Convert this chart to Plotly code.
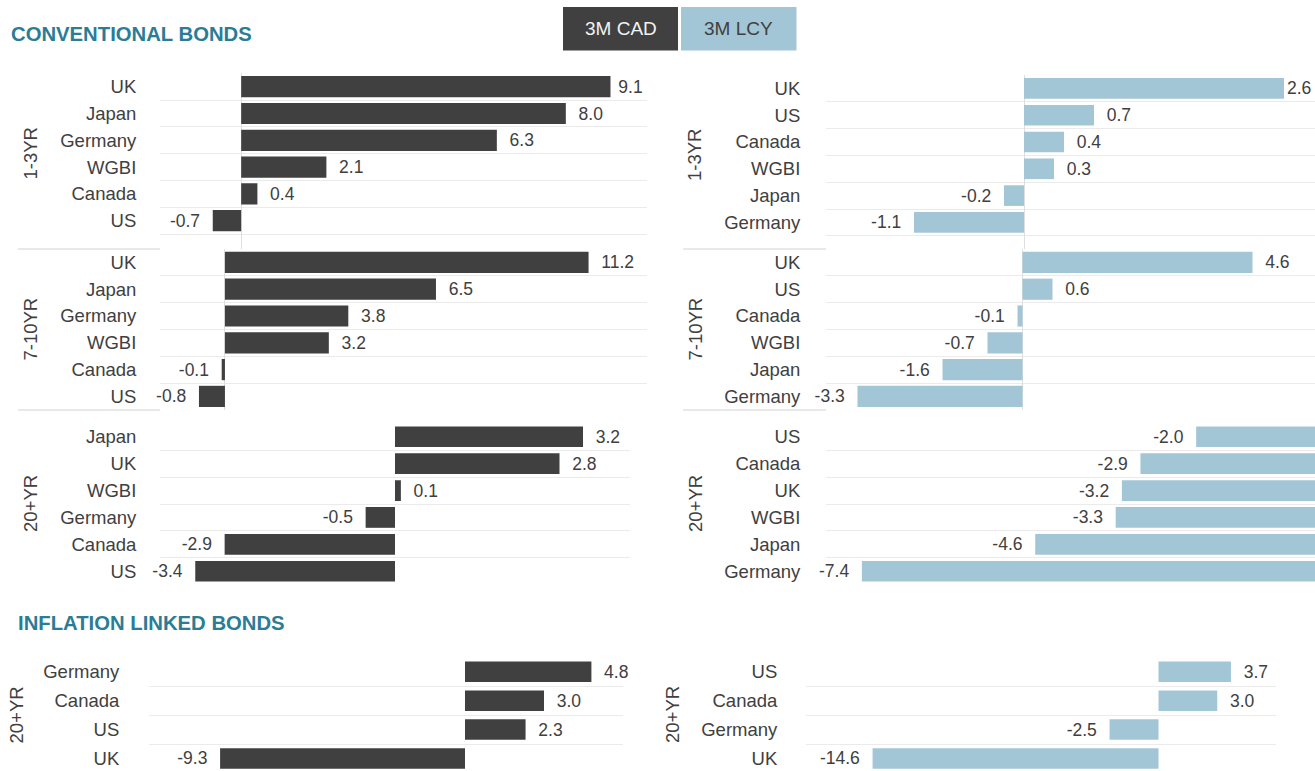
import plotly.graph_objects as go

# ---------------- DATA ----------------
series_names = ["3M CAD", "3M LCY"]

cad_1_3_cats = ["UK", "Japan", "Germany", "WGBI", "Canada", "US"]
cad_1_3_vals = [9.1, 8.0, 6.3, 2.1, 0.4, -0.7]

cad_7_10_cats = ["UK", "Japan", "Germany", "WGBI", "Canada", "US"]
cad_7_10_vals = [11.2, 6.5, 3.8, 3.2, -0.1, -0.8]

cad_20_cats = ["Japan", "UK", "WGBI", "Germany", "Canada", "US"]
cad_20_vals = [3.2, 2.8, 0.1, -0.5, -2.9, -3.4]

lcy_1_3_cats = ["UK", "US", "Canada", "WGBI", "Japan", "Germany"]
lcy_1_3_vals = [2.6, 0.7, 0.4, 0.3, -0.2, -1.1]

lcy_7_10_cats = ["UK", "US", "Canada", "WGBI", "Japan", "Germany"]
lcy_7_10_vals = [4.6, 0.6, -0.1, -0.7, -1.6, -3.3]

lcy_20_cats = ["US", "Canada", "UK", "WGBI", "Japan", "Germany"]
lcy_20_vals = [-2.0, -2.9, -3.2, -3.3, -4.6, -7.4]

il_cad_cats = ["Germany", "Canada", "US", "UK"]
il_cad_vals = [4.8, 3.0, 2.3, -9.3]

il_lcy_cats = ["US", "Canada", "Germany", "UK"]
il_lcy_vals = [3.7, 3.0, -2.5, -14.6]

section_labels = ["1-3YR", "7-10YR", "20+YR"]
titles = ["CONVENTIONAL BONDS", "INFLATION LINKED BONDS"]

# ---------------- STYLE ----------------
W, H = 1315, 771
DARK = "#404040"
LIGHT = "#a3c6d6"
TEAL = "#2b7c95"
TXT = "#404040"
GRID = "#ebebeb"
ZERO = "#dedede"
SEP = "#d2d2d2"
FONT = "Liberation Sans, Arial, Helvetica, sans-serif"
VAL_SIZE = 17.5


def fx(p):
    return p / W


def fy(p):
    return 1 - p / H


def text_w(s, size):
    w = {".": 0.278, "-": 0.333}
    return sum(w.get(c, 0.556) for c in s) * size


fig = go.Figure()

# panel geometry (pixels): x0, x1, ytop, ybottom, pitch, xrange, ticklen, bargap, zeroline, text limit
panels = [
    (cad_1_3_cats, cad_1_3_vals, DARK, 160, 647, 73.3, 249, 26.8, [-2, 10], 19, 0.21, True, 643),
    (cad_7_10_cats, cad_7_10_vals, DARK, 160, 647, 249, 410, 26.8, [-2, 13], 19, 0.21, True, 643),
    (cad_20_cats, cad_20_vals, DARK, 160, 630, 423.3, 585, 26.9, [-4, 4], 19, 0.23, False, 660),
    (lcy_1_3_cats, lcy_1_3_vals, LIGHT, 826, 1315, 75, 249, 26.8, [-1.98, 2.91], 21, 0.23, True, 1313),
    (lcy_7_10_cats, lcy_7_10_vals, LIGHT, 826, 1315, 249, 410, 26.8, [-3.93, 5.85], 21, 0.21, True, 1313),
    (lcy_20_cats, lcy_20_vals, LIGHT, 826, 1315, 423.3, 585, 26.9, [-7.98, -0.08], 21, 0.23, False, 1313),
    (il_cad_cats, il_cad_vals, DARK, 149, 623, 657.3, 771, 28.9, [-12, 6], 25, 0.29, False, 660),
    (il_lcy_cats, il_lcy_vals, LIGHT, 806, 1276, 657.3, 771, 28.9, [-18, 6], 24, 0.29, False, 1313),
]

NBW = 0.278 * VAL_SIZE
layout_axes = {}
for i, (cats, vals, color, x0, x1, ytop, ybot, pitch, xr, tl, gap, zl, tlim) in enumerate(panels):
    n = len(cats)
    k = "" if i == 0 else str(i + 1)
    idx = list(range(n))
    scale = (x1 - x0) / (xr[1] - xr[0])
    templates = []
    for v in vals:
        if v >= 0:
            end = x0 + (v - xr[0]) * scale
            lw = text_w("%.1f" % v, VAL_SIZE)
            npad = 2
            while npad > 0 and end + 3 + npad * NBW + lw > tlim:
                npad -= 1
            templates.append("\u00a0" * npad + "%{x:.1f}")
        else:
            templates.append("%{x:.1f}" + "\u00a0\u00a0")
    fig.add_trace(go.Bar(
        x=vals, y=idx, orientation="h", width=1 - gap,
        marker=dict(color=color, line=dict(width=0)),
        texttemplate=templates, textposition="outside",
        textfont=dict(family=FONT, size=VAL_SIZE, color=TXT),
        constraintext="none", cliponaxis=False,
        xaxis="x" + k, yaxis="y" + k, showlegend=False, hoverinfo="skip",
    ))
    ymax = (ybot - ytop) / pitch - 0.5
    layout_axes["xaxis" + k] = dict(
        domain=[fx(x0), fx(x1)], range=xr, anchor="y" + k,
        showticklabels=False, showgrid=False, ticks="",
        zeroline=zl, zerolinecolor=ZERO, zerolinewidth=1, showline=False, fixedrange=True,
    )
    layout_axes["yaxis" + k] = dict(
        domain=[fy(ybot), fy(ytop)], range=[ymax, -0.5], anchor="x" + k,
        tickmode="array", tickvals=idx, ticktext=cats,
        ticks="outside", ticklen=tl, tickcolor="rgba(0,0,0,0)",
        tickfont=dict(family=FONT, size=18.5, color=TXT),
        showgrid=False, zeroline=False, showline=False, fixedrange=True,
        minor=dict(tickvals=[j - 0.5 for j in range(n + 1)], showgrid=True,
                   gridcolor=GRID, gridwidth=1, ticks=""),
    )

shapes = []
# block separators in the label column
for y in (249, 410):
    shapes.append(dict(type="line", xref="paper", yref="paper",
                       x0=fx(18), x1=fx(160), y0=fy(y), y1=fy(y),
                       line=dict(color=SEP, width=1)))
    shapes.append(dict(type="line", xref="paper", yref="paper",
                       x0=fx(683), x1=fx(826), y0=fy(y), y1=fy(y),
                       line=dict(color=SEP, width=1)))
# legend buttons
shapes.append(dict(type="rect", xref="paper", yref="paper", x0=fx(563), x1=fx(678),
                   y0=fy(50.5), y1=fy(7), fillcolor=DARK, line=dict(width=0), layer="below"))
shapes.append(dict(type="rect", xref="paper", yref="paper", x0=fx(681), x1=fx(796.5),
                   y0=fy(50.5), y1=fy(7), fillcolor=LIGHT, line=dict(width=0), layer="below"))

annotations = [
    dict(text="<b>%s</b>" % titles[0], x=fx(9), y=fy(34.5), xref="paper", yref="paper",
         xanchor="left", yanchor="middle", showarrow=False,
         font=dict(family=FONT, size=20.3, color=TEAL)),
    dict(text="<b>%s</b>" % titles[1], x=fx(16), y=fy(622.5), xref="paper", yref="paper",
         xanchor="left", yanchor="middle", showarrow=False,
         font=dict(family=FONT, size=20.3, color=TEAL)),
    dict(text=series_names[0], x=fx(620.5), y=fy(29), xref="paper", yref="paper",
         xanchor="center", yanchor="middle", showarrow=False,
         font=dict(family=FONT, size=19, color="#f2f2f2")),
    dict(text=series_names[1], x=fx(738.5), y=fy(29), xref="paper", yref="paper",
         xanchor="center", yanchor="middle", showarrow=False,
         font=dict(family=FONT, size=19, color=TXT)),
]
sec_pos = [(30, 153.5, 0), (30, 329.5, 1), (30, 504, 2),
           (695, 155, 0), (695, 329.5, 1), (695, 504, 2),
           (15.5, 715, 2), (672, 715, 2)]
for xp, yp, si in sec_pos:
    annotations.append(dict(text=section_labels[si], x=fx(xp), y=fy(yp), xref="paper", yref="paper",
                            xanchor="center", yanchor="middle", textangle=-90, showarrow=False,
                            font=dict(family=FONT, size=18.5, color=TXT)))

fig.update_layout(
    width=W, height=H, margin=dict(l=0, r=0, t=0, b=0),
    paper_bgcolor="white", plot_bgcolor="white",
    shapes=shapes, annotations=annotations, showlegend=False,
    font=dict(family=FONT, color=TXT),
    **layout_axes,
)

fig.write_html("out.html")
